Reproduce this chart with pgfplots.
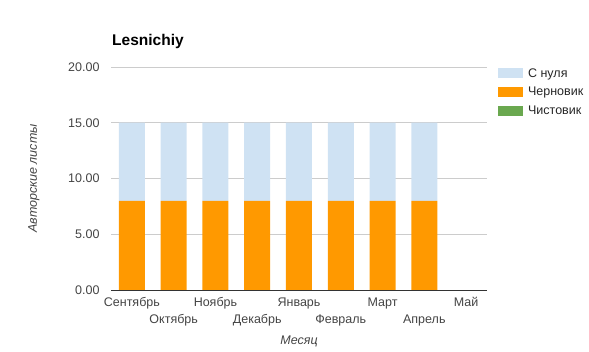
\documentclass[border=0pt]{standalone}
\usepackage{fontspec}
\setmainfont{Liberation Sans}
\usepackage{pgfplots}
\usepackage{pgfplotstable}
\pgfplotsset{compat=1.18}
\definecolor{cblue}{HTML}{CFE2F3}
\definecolor{corange}{HTML}{FF9900}
\definecolor{cgreen}{HTML}{6AA84F}
\definecolor{tickc}{HTML}{444444}
\definecolor{gridc}{HTML}{CCCCCC}
\newcommand{\lo}[1]{\rule{0pt}{9.3pt}\\#1}
\pgfplotstableread{
x draft zero clean
0 8 7 0
1 8 7 0
2 8 7 0
3 8 7 0
4 8 7 0
5 8 7 0
6 8 7 0
7 8 7 0
8 0 0 0
}\data
\begin{document}
\begin{tikzpicture}
\useasboundingbox (0pt,0pt) rectangle (589pt,352pt);
\begin{axis}[
  at={(111pt,62pt)}, anchor=south west,
  scale only axis, width=376pt, height=223pt,
  ybar stacked, bar width=26pt,
  xmin=-0.5, xmax=8.5, ymin=0, ymax=20,
  xtick={0,...,8},
  xticklabels={Сентябрь,\lo{Октябрь},Ноябрь,\lo{Декабрь},Январь,\lo{Февраль},Март,\lo{Апрель},Май},
  ytick={0,5,10,15,20},
  major tick length=0pt,
  axis x line*=bottom, axis y line*=left,
  x axis line style={-, draw=black!80, line width=0.8pt},
  y axis line style={draw=none},
  ymajorgrids, grid style={gridc, line width=0.6pt},
  /pgf/number format/assume math mode=true,
  /pgf/number format/.cd, fixed, fixed zerofill, precision=2, /pgfplots/.cd,
  yticklabel style={font=\fontsize{12.5}{14}\selectfont, color=tickc, xshift=-8pt},
  xticklabel style={font=\fontsize{12.5}{17}\selectfont, color=tickc, align=center, anchor=north, yshift=-4pt},
  title={Lesnichiy},
  title style={at={(axis description cs:0,1)}, anchor=west, inner sep=0pt, xshift=1pt, yshift=20pt, font=\bfseries\fontsize{15.5}{18}\selectfont},
  xlabel={Месяц},
  xlabel style={at={(axis description cs:0.5,-0.229)}, anchor=center, font=\itshape\fontsize{12.5}{14}\selectfont, color=tickc},
  ylabel={Авторские листы},
  ylabel style={at={(axis description cs:-0.205,0.5)}, anchor=center, rotate=0, font=\itshape\fontsize{12.5}{14}\selectfont, color=tickc},
  legend image code/.code={\fill[#1] (0pt,-5pt) rectangle (25pt,5pt); \path (28pt,0pt);},
  legend style={at={(axis description cs:1.029,1.004)}, anchor=north west, draw=none, fill=none,
    font=\fontsize{12.5}{14}\selectfont, text=black!85, row sep=4.5pt, inner sep=0pt,
    nodes={inner sep=2pt}},
  legend cell align=left,
]
\addplot[fill=corange, draw=none, forget plot] table[x=x, y=draft] {\data};
\addplot[fill=cblue, draw=none, forget plot] table[x=x, y=zero] {\data};
\addplot[fill=cgreen, draw=none, forget plot] table[x=x, y=clean] {\data};
\addlegendimage{fill=cblue, draw=none}
\addlegendentry{С нуля}
\addlegendimage{fill=corange, draw=none}
\addlegendentry{Черновик}
\addlegendimage{fill=cgreen, draw=none}
\addlegendentry{Чистовик}
\end{axis}
\end{tikzpicture}
\end{document}
